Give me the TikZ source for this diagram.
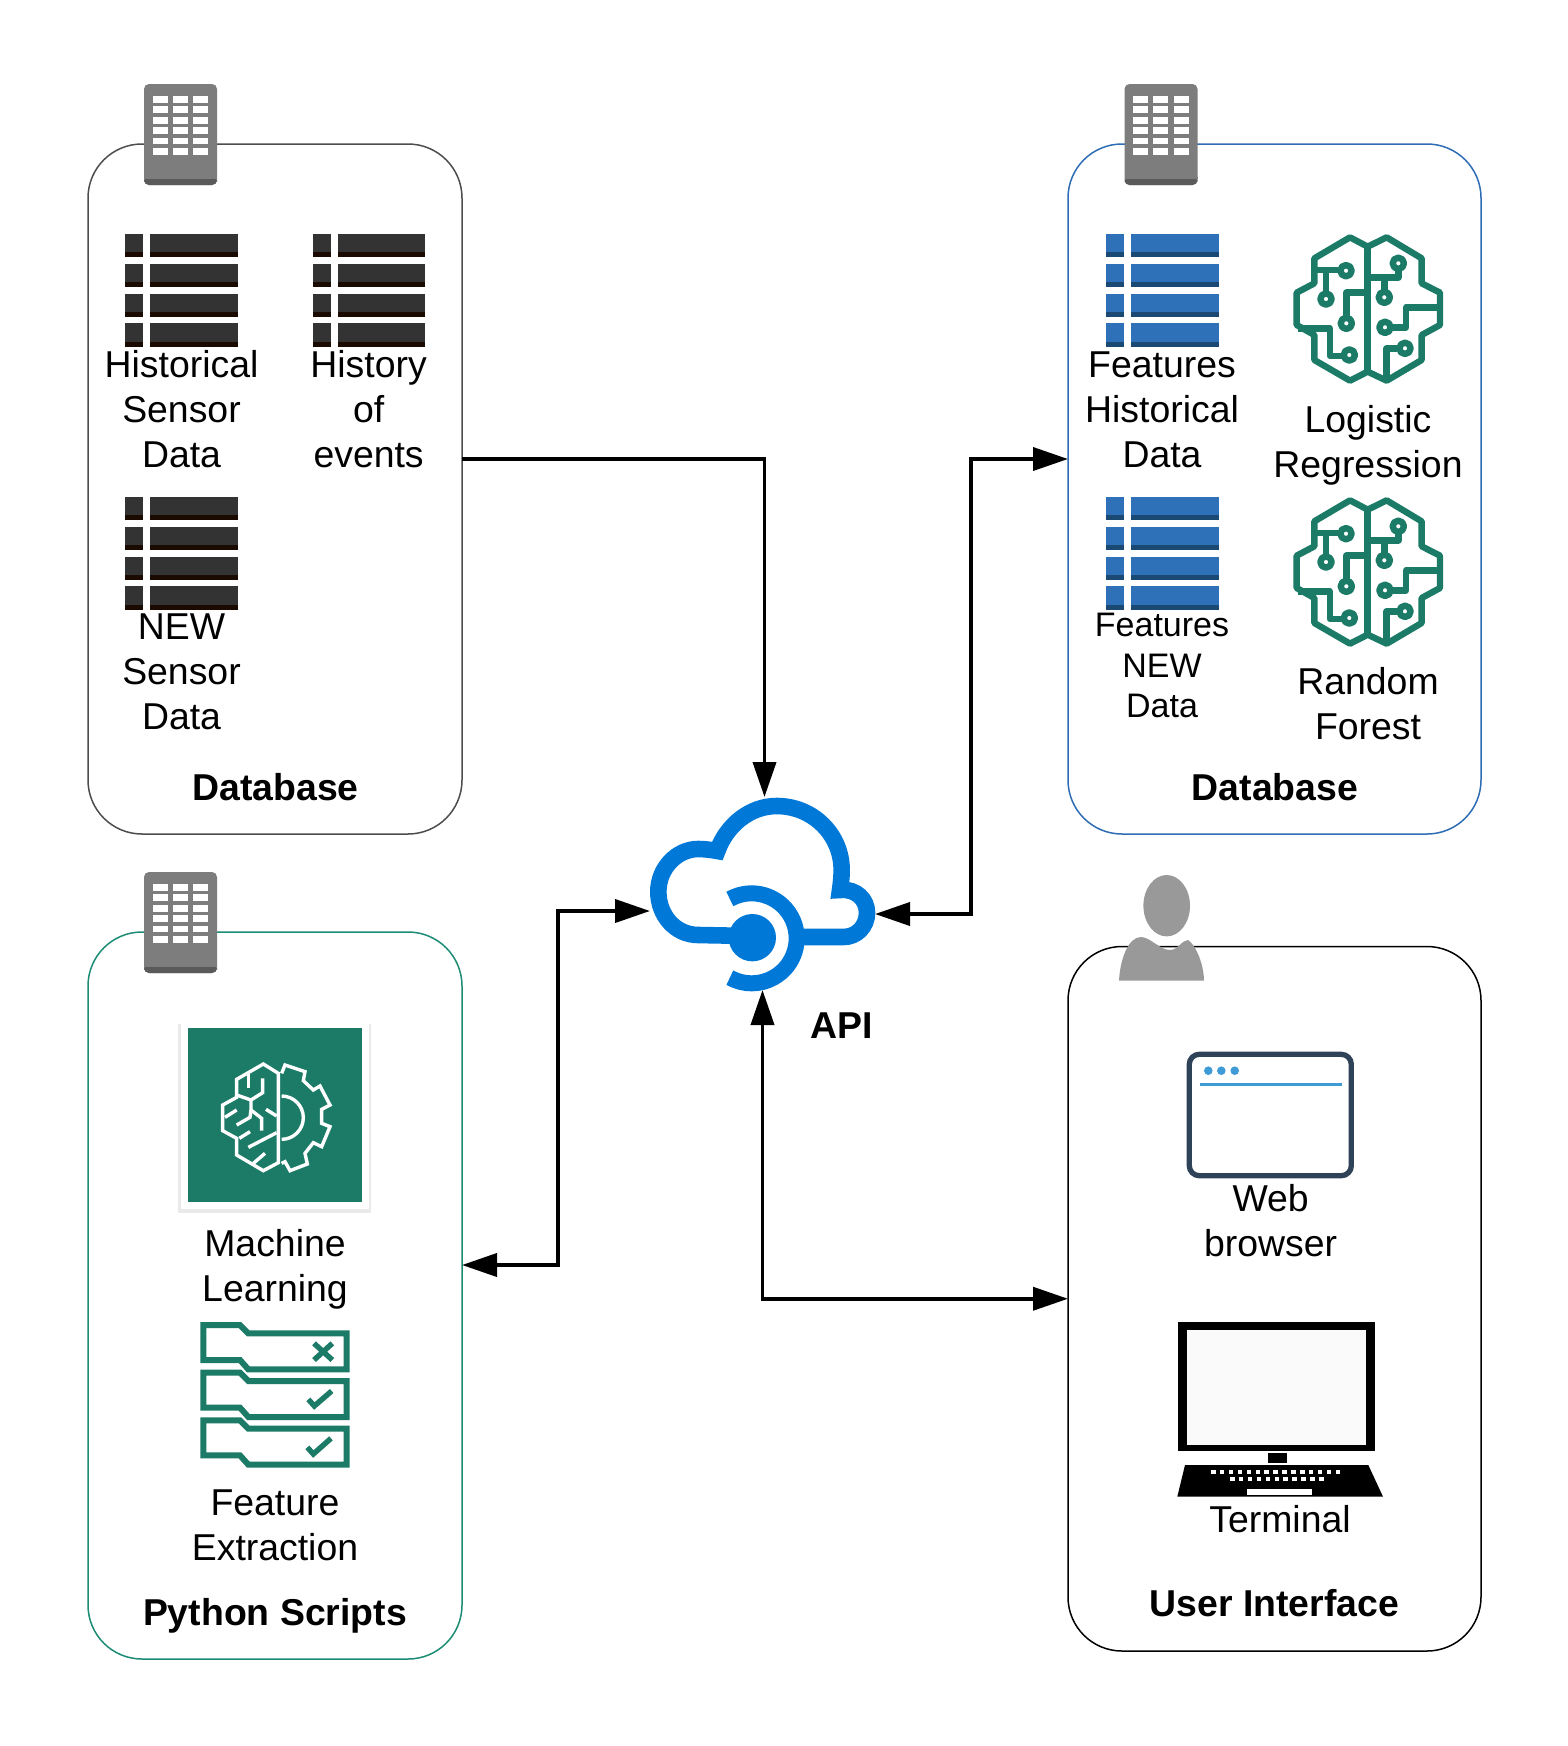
\documentclass[tikz,border=0pt]{standalone}
\usepackage{fontspec}
\setmainfont{Liberation Sans}
\usetikzlibrary{arrows.meta}
\definecolor{darkrow}{HTML}{333333}
\definecolor{darkband}{HTML}{1A0A00}
\definecolor{bluerow}{HTML}{2E71B8}
\definecolor{blueband}{HTML}{1A4A73}
\definecolor{sagegreen}{HTML}{1C7B67}
\definecolor{cloudblue}{HTML}{0078D7}
\definecolor{servergray}{HTML}{7D7D7D}
\definecolor{serverband}{HTML}{5A5A5A}
\definecolor{panelgray}{HTML}{4D4D4D}
\definecolor{panelblue}{HTML}{2E6DB4}
\definecolor{panelgreen}{HTML}{1C8C74}
\definecolor{usergray}{HTML}{999999}
\definecolor{slate}{HTML}{2F4358}
\definecolor{dotblue}{HTML}{3E9BD6}
\tikzset{
  panel/.style={draw,line width=0.75pt,rounded corners=27pt,inner sep=0pt,outer sep=0pt,fill=none},
  flow/.style={line width=1.9pt,-{Triangle[length=17.5pt,width=11.5pt]}},
  flowboth/.style={line width=1.9pt,{Triangle[length=17.5pt,width=11.5pt]}-{Triangle[length=17.5pt,width=11.5pt]}},
  label/.style={align=center,font=\fontsize{18.7}{22.5}\selectfont},
  smalllabel/.style={align=center,font=\fontsize{17}{20.3}\selectfont},
  title/.style={align=center,font=\fontsize{18.7}{22.5}\selectfont\bfseries},
  pics/servericon/.style={code={
    \fill[servergray,rounded corners=2.5pt] (0,0) rectangle (73,101);
    \fill[serverband,rounded corners=2.5pt] (0,93) rectangle (73,101);
    \fill[servergray] (0,93) rectangle (73,95);
    \foreach \c in {8.5,28.7,49} {\foreach \r in {12,22.3,33,43.3,53.7,64} {\fill[white] (\c,\r) rectangle ++(15,6.7);}}
  }},
  pics/tableicon/.style 2 args={code={
    \foreach \r in {0,29.8,59.6,89.4} {
      \fill[#1] (0,\r) rectangle (18,\r+23.3);
      \fill[#1] (25.3,\r) rectangle (112.7,\r+23.3);
      \fill[#2] (0,\r+18.3) rectangle (18,\r+23.3);
      \fill[#2] (25.3,\r+18.3) rectangle (112.7,\r+23.3);
    }
  }},
  pics/brainicon/.style={code={
    \begin{scope}[sagegreen,line width=3.2pt,line join=round]
    \draw (293,80) -- (240,52) -- (133,115) -- (133,190) -- (80,218) -- (80,315) -- (133,345) -- (133,420) -- (240,482) -- (293,455) -- (350,482) -- (455,420) -- (455,345) -- (510,315) -- (510,218) -- (455,190) -- (455,115) -- (350,52) -- cycle;
    \draw (293,80) -- (293,455);
    \draw (133,150) -- (205,150) (168,150) -- (168,215);
    \draw (229,290) -- (229,218) -- (293,218);
    \draw (85,325) -- (180,325) -- (180,408) -- (215,408);
    \draw (293,172) -- (385,172) -- (385,150) (343,172) -- (343,210);
    \draw (368,322) -- (408,322) -- (408,262) -- (505,262);
    \draw (380,385) -- (350,385) -- (350,470);
    \foreach \x/\y in {228/152,168/237,229/310,238/405,385/130,343/232,345/322,405/385} {\draw[fill=white] (\x,\y) circle (17);}
    \end{scope}
  }},
  pics/apicloud/.style={code={
    \draw[cloudblue,line width=8.3pt,miter limit=10] (310,467) -- (205,465) .. controls (135,465) and (85,405) .. (85,335) .. controls (85,265) and (140,207) .. (205,207) .. controls (225,207) and (245,210) .. (262,213) .. controls (290,135) and (360,78) .. (440,78) .. controls (550,78) and (635,165) .. (635,270) .. controls (635,295) and (632,315) .. (630,330) .. controls (680,325) and (711,360) .. (711,398) .. controls (711,440) and (680,471) .. (640,471) -- (505,471);
    \fill[cloudblue] (367,473) circle (71);
    \draw[cloudblue,line width=8pt] (365,475) ++(-119:135) arc[start angle=-119,end angle=119,radius=135];
  }},
  pics/mlicon/.style={code={
    \begin{scope}[white,line width=1.7pt,line join=miter]
    \draw (325,190) -- (280,162) -- (200,208) -- (200,262) -- (158,285) -- (158,362) -- (200,385) -- (200,435) -- (280,482) -- (325,458) -- cycle;
    \draw (235,192) -- (235,235);
    \draw (278,205) -- (278,248) -- (243,270) -- (200,255);
    \draw (243,270) -- (243,300) -- (275,325) -- (275,362);
    \draw (200,345) -- (240,322) -- (243,300);
    \draw (165,322) -- (200,300);
    \draw (208,385) -- (240,365);
    \draw (235,412) -- (320,368);
    \draw (250,460) -- (285,430);
    \draw (288,298) -- (320,318);
    \draw (335,190) -- (345,165) -- (405,185) -- (400,212) -- (430,240) -- (450,228) -- (480,285) -- (455,298) -- (455,340) -- (480,350) -- (455,410) -- (430,398) -- (405,430) -- (412,462) -- (360,482) -- (345,455) -- (335,460);
    \draw (335,258) arc[start angle=-90,end angle=90,radius=65];
    \end{scope}
  }},
  pics/featicon/.style={code={
    \begin{scope}[sagegreen,line width=3pt,line join=miter]
    \foreach \s in {0,143,286} {\draw (40,45+\s) -- (150,45+\s) -- (175,70+\s) -- (470,70+\s) -- (470,178+\s) -- (175,178+\s) -- (150,150+\s) -- (40,150+\s) -- cycle;}
    \draw[line width=2.7pt] (372,100) -- (427,150) (427,100) -- (372,150);
    \draw[line width=2.7pt] (355,268) -- (373,288) -- (425,243);
    \draw[line width=2.7pt] (352,412) -- (370,432) -- (423,385);
    \end{scope}
  }}
}
\begin{document}
\begin{tikzpicture}[x=0.5pt,y=-0.5pt]
\useasboundingbox (0,0) rectangle (1568,1746);
\node[panel,draw=panelgray,minimum width=187pt,minimum height=345pt] (rawdb) at (275,489) {};
\node[panel,draw=panelblue,minimum width=206.5pt,minimum height=345pt] (featdb) at (1274.5,489) {};
\node[panel,draw=panelgreen,minimum width=187pt,minimum height=363.5pt] (scriptbox) at (275,1295.5) {};
\node[panel,draw=black,minimum width=206.5pt,minimum height=352.25pt] (uibox) at (1274.5,1298.75) {};
\node[inner sep=0pt,outer sep=0pt,minimum width=112.5pt,minimum height=97.5pt] (api) at (762.5,894.5) {};
\coordinate (leftmid) at (558,1090);
\coordinate (rightmid) at (971,690);
\pic at (630,780) [scale=1/3] {apicloud};
\draw[flow] ([yshift=15pt]rawdb.east) -| ([xshift=1pt]api.north);
\draw[flowboth] ([yshift=-8.25pt]api.west) -| (leftmid) |- ([yshift=15.25pt]scriptbox.east);
\draw[flowboth] ([yshift=-9.75pt]api.east) -| (rightmid) |- ([yshift=15pt]featdb.west);
\draw[flowboth] ([yshift=1pt]api.south) |- (uibox.west);
\pic at (144,84) {servericon};
\pic at (1124.5,84) {servericon};
\pic at (144,872) {servericon};
\pic at (125,234) {tableicon={darkrow}{darkband}};
\pic at (312.5,234) {tableicon={darkrow}{darkband}};
\pic at (125,497) {tableicon={darkrow}{darkband}};
\pic at (1106,234) {tableicon={bluerow}{blueband}};
\pic at (1106,497) {tableicon={bluerow}{blueband}};
\pic at (1270,220) [scale=1/3] {brainicon};
\pic at (1270,483) [scale=1/3] {brainicon};
\node[label] (histsensor) at (181.5,409) {Historical\\Sensor\\Data};
\node[label] (histevents) at (368.6,409) {History\\of\\events};
\node[label] (newsensor) at (181.5,671.5) {NEW\\Sensor\\Data};
\node[title] (rawtitle) at (275.5,787) {Database};
\node[label] (feathist) at (1162,409.5) {Features\\Historical\\Data};
\node[smalllabel] (featnew) at (1162,665.5) {Features\\NEW\\Data};
\node[label] (logreg) at (1368,445) {Logistic\\Regression};
\node[label] (forest) at (1368,703.8) {Random\\Forest};
\node[title] (feattitle) at (1275,787) {Database};
\node[title] (apititle) at (841.5,1025.6) {API};
\fill[black!25,opacity=0.35] (178,1024) rectangle (371,1213);
\fill[white] (181,1022) rectangle (369,1209);
\fill[sagegreen] (187.7,1028.3) rectangle (362.3,1202.3);
\pic at (170,1010) [scale=1/3] {mlicon};
\node[label] (mllabel) at (275,1269.5) {Machine\\Learning};
\pic at (190,1310) [scale=1/3] {featicon};
\node[label] (featextract) at (275,1525.5) {Feature\\Extraction};
\node[title] (scripttitle) at (275,1615.6) {Python Scripts};
\fill[usergray] (1166.7,905.7) ellipse (23.3 and 30.7);
\fill[usergray] (1119,980.7) .. controls (1120,960) and (1128,937) .. (1141,937) .. controls (1150,937) and (1160,950) .. (1170,950) .. controls (1178,950) and (1182,940) .. (1188,940) .. controls (1196,945) and (1204,965) .. (1204,980.7) -- cycle;
\draw[slate,line width=2.65pt,rounded corners=5pt] (1189.3,1054.3) rectangle (1351.3,1175.7);
\foreach \x in {1208.3,1221.3,1234.7} {\fill[dotblue] (\x,1070.7) circle (4.3);}
\draw[dotblue,line width=1.5pt] (1200,1084) -- (1341.7,1084);
\node[label] (weblabel) at (1270.6,1220.5) {Web\\browser};
\fill[black] (1177.7,1322) rectangle (1375,1450.7);
\fill[black!2] (1186.7,1330) rectangle (1366,1445);
\fill[black] (1268,1453) rectangle (1287,1462.7);
\fill[black] (1185,1465) -- (1368.3,1465) -- (1383,1496.7) -- (1177.3,1496.7) -- cycle;
\foreach \k in {0,...,14} {\fill[white] (1211+8.9*\k,1470) rectangle ++(4.5,4);}
\foreach \k in {0,...,10} {\fill[white] (1230+8.9*\k,1477.3) rectangle ++(4.5,4);}
\fill[white] (1247,1489) rectangle (1312,1495);
\node[label] (termlabel) at (1280,1519) {Terminal};
\node[title] (uititle) at (1274.5,1603.6) {User Interface};
\end{tikzpicture}
\end{document}
